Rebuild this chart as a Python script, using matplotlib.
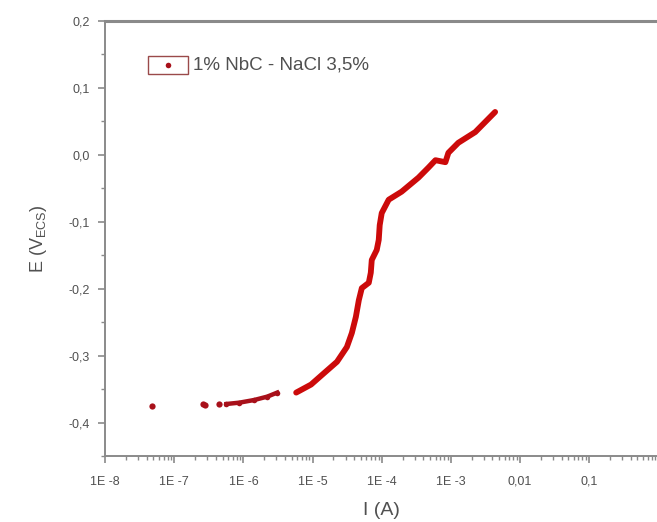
import numpy as np
import matplotlib
matplotlib.use("Agg")
import matplotlib.pyplot as plt
from matplotlib.patches import Rectangle
from matplotlib.ticker import FixedLocator, FixedFormatter, LogLocator, MultipleLocator, NullFormatter

plt.rcParams["font.family"] = ["Liberation Sans", "DejaVu Sans"]

# isolated / sparse points at low current
I_iso = [4.8e-8, 2.6e-7, 2.8e-7, 4.4e-7]
E_iso = [-0.375, -0.372, -0.373, -0.372]

# dense low segment (log10 I)
logI_low = [-6.245, -6.058, -5.842, -5.655, -5.511]
E_low = [-0.372, -0.370, -0.366, -0.361, -0.355]

# main branch (log10 I)
logI_main = [-5.237, -5.022, -4.835, -4.647, -4.504, -4.432, -4.374, -4.331,
             -4.288, -4.187, -4.158, -4.144, -4.072, -4.043, -4.029, -4.000,
             -3.899, -3.712, -3.468, -3.324, -3.223, -3.079, -3.036, -2.892,
             -2.647, -2.360]
E_main = [-0.355, -0.343, -0.326, -0.309, -0.287, -0.266, -0.242, -0.217,
          -0.199, -0.191, -0.176, -0.157, -0.142, -0.127, -0.105, -0.087,
          -0.067, -0.055, -0.034, -0.019, -0.008, -0.011, 0.003, 0.018,
          0.034, 0.064]

xticks = [1e-8, 1e-7, 1e-6, 1e-5, 1e-4, 1e-3, 1e-2, 1e-1, 1]
xlabels = ["1E -8", "1E -7", "1E -6", "1E -5", "1E -4", "1E -3", "0,01", "0,1", ""]
yticks = [-0.4, -0.3, -0.2, -0.1, 0.0, 0.1, 0.2]
ylabels = ["-0,4", "-0,3", "-0,2", "-0,1", "0,0", "0,1", "0,2"]

RED = "#cc0a0a"
DARK = "#a8101a"
GREY = "#8a8a8a"
TXT = "#505050"

fig = plt.figure(figsize=(6.57, 5.22), dpi=100)
ax = fig.add_axes([0.160, 0.126, 0.842, 0.834])

ax.plot(I_iso, E_iso, "o", color=DARK, ms=4.5, mec="none")
ax.plot(10 ** np.array(logI_low), E_low, "-o", color=DARK, lw=3.2, ms=4, mec="none")
ax.plot(10 ** np.array(logI_main), E_main, "-", color=RED, lw=4.2,
        solid_capstyle="round", solid_joinstyle="round")

ax.set_xscale("log")
ax.set_xlim(1e-8, 1)
ax.set_ylim(-0.45, 0.2)

ax.xaxis.set_major_locator(FixedLocator(xticks))
ax.xaxis.set_major_formatter(FixedFormatter(xlabels))
ax.xaxis.set_minor_locator(LogLocator(base=10, subs=np.arange(2, 10)))
ax.xaxis.set_minor_formatter(NullFormatter())
ax.yaxis.set_major_locator(FixedLocator(yticks))
ax.yaxis.set_major_formatter(FixedFormatter(ylabels))
ax.yaxis.set_minor_locator(MultipleLocator(0.05))

for sp in ("left", "bottom", "top"):
    ax.spines[sp].set_color(GREY)
    ax.spines[sp].set_linewidth(1.4)
ax.spines["top"].set_linewidth(2.2)
ax.spines["right"].set_visible(False)

ax.tick_params(which="major", direction="out", length=5, width=1.2,
               color=GREY, labelsize=9, labelcolor=TXT, pad=6)
ax.tick_params(which="minor", direction="out", length=3, width=1.0, color=GREY)
ax.tick_params(axis="x", which="both", top=False)
ax.tick_params(axis="x", which="major", pad=9)

ax.set_xlabel("I (A)", fontsize=14, color=TXT, labelpad=10)
ax.set_ylabel("E (V$_{\\mathregular{ECS}}$)", fontsize=13, color=TXT, labelpad=14)

# Origin-style legend
ax.add_patch(Rectangle((0.078, 0.878), 0.072, 0.042, transform=ax.transAxes,
                       fill=False, edgecolor="#9a4a4a", lw=1.0, clip_on=False))
ax.plot([0.114], [0.899], "o", color=DARK, ms=4, mec="none", transform=ax.transAxes)
ax.text(0.159, 0.899, "1% NbC - NaCl 3,5%", transform=ax.transAxes,
        fontsize=13.5, color=TXT, va="center", ha="left")

fig.savefig("out.png", dpi=100)
